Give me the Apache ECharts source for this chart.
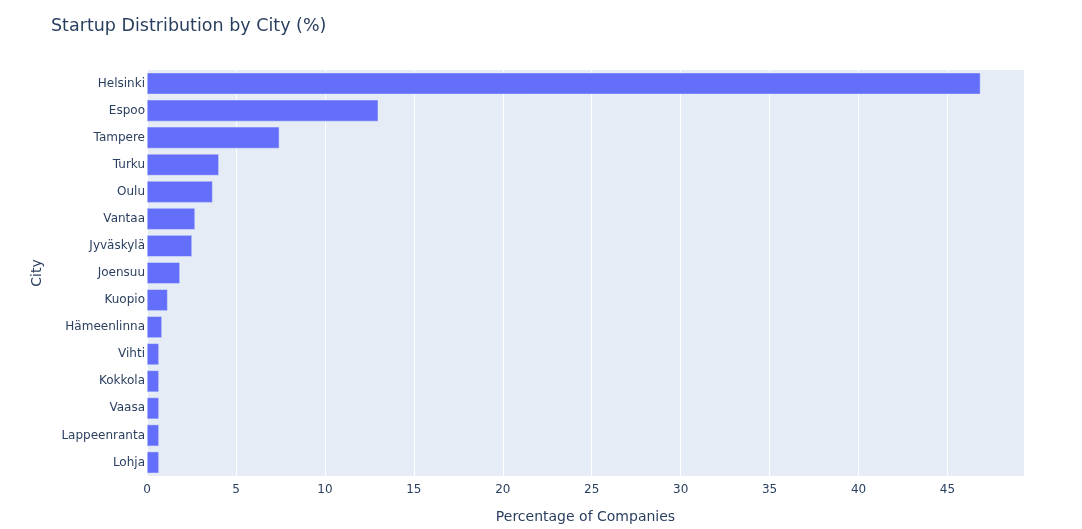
<!DOCTYPE html>
<html>
<head>
<meta charset="utf-8">
<title>Startup Distribution by City (%)</title>
<script src="https://cdn.jsdelivr.net/npm/echarts@6/dist/echarts.min.js"></script>
<style>
  html, body { margin: 0; padding: 0; background: #fff; }
  #city_bars { width: 1082px; height: 529px; }
</style>
</head>
<body>
<div id="city_bars"></div>
<script>
// Chart data
// ------------------------------

var cities = [
  "Helsinki", "Espoo", "Tampere", "Turku", "Oulu", "Vantaa", "Jyväskylä",
  "Joensuu", "Kuopio", "Hämeenlinna", "Vihti", "Kokkola", "Vaasa",
  "Lappeenranta", "Lohja"
];
var shares = [
  46.85, 13.0, 7.44, 4.04, 3.69, 2.7, 2.53,
  1.85, 1.16, 0.84, 0.67, 0.67, 0.67,
  0.67, 0.67
];
var xTicks = [0, 5, 10, 15, 20, 25, 30, 35, 40, 45];

// Setup chart
// ------------------------------

var el = document.getElementById("city_bars");
var chart = echarts.init(el);
var fontName = "'DejaVu Sans', Verdana, sans-serif";

chart.setOption({
  animation: false,
  textStyle: {
    fontFamily: fontName,
    color: "#2a3f5f"
  },

  title: {
    text: "Startup Distribution by City (%)",
    left: 46,
    top: 12,
    textStyle: {
      fontFamily: fontName,
      fontSize: 17.5,
      fontWeight: "normal",
      color: "#2a3f5f"
    }
  },

  grid: {
    left: 147,
    right: 58,
    top: 70,
    bottom: 52,
    show: true,
    backgroundColor: "#E5ECF6",
    borderWidth: 0
  },

  // Horizontal axis
  xAxis: {
    type: "value",
    min: 0,
    max: 49.3,
    interval: 5,
    name: "Percentage of Companies",
    nameLocation: "middle",
    nameGap: 34,
    nameTextStyle: { fontFamily: fontName, fontSize: 14, color: "#2a3f5f" },
    axisLine: { show: false },
    axisTick: { show: false },
    axisLabel: {
      fontFamily: fontName,
      fontSize: 12,
      color: "#2a3f5f",
      margin: 8,
      showMaxLabel: false,
      formatter: function (v) {
        return xTicks.indexOf(v) >= 0 ? String(v) : "";
      }
    },
    splitLine: {
      show: true,
      lineStyle: { color: "#ffffff", width: 1 }
    }
  },

  // Vertical axis
  yAxis: {
    type: "category",
    inverse: true,
    data: cities,
    name: "City",
    nameLocation: "middle",
    nameGap: 103,
    nameTextStyle: { fontFamily: fontName, fontSize: 14, color: "#2a3f5f" },
    axisLine: { show: false },
    axisTick: { show: false },
    axisLabel: { fontFamily: fontName, fontSize: 12, color: "#2a3f5f", margin: 2 },
    splitLine: { show: false }
  },

  series: [
    {
      name: "Percentage",
      type: "bar",
      data: shares,
      barCategoryGap: "20%",
      itemStyle: {
        color: "#636efa",
        borderColor: "#E5ECF6",
        borderWidth: 0.5
      }
    }
  ]
});
</script>
</body>
</html>
